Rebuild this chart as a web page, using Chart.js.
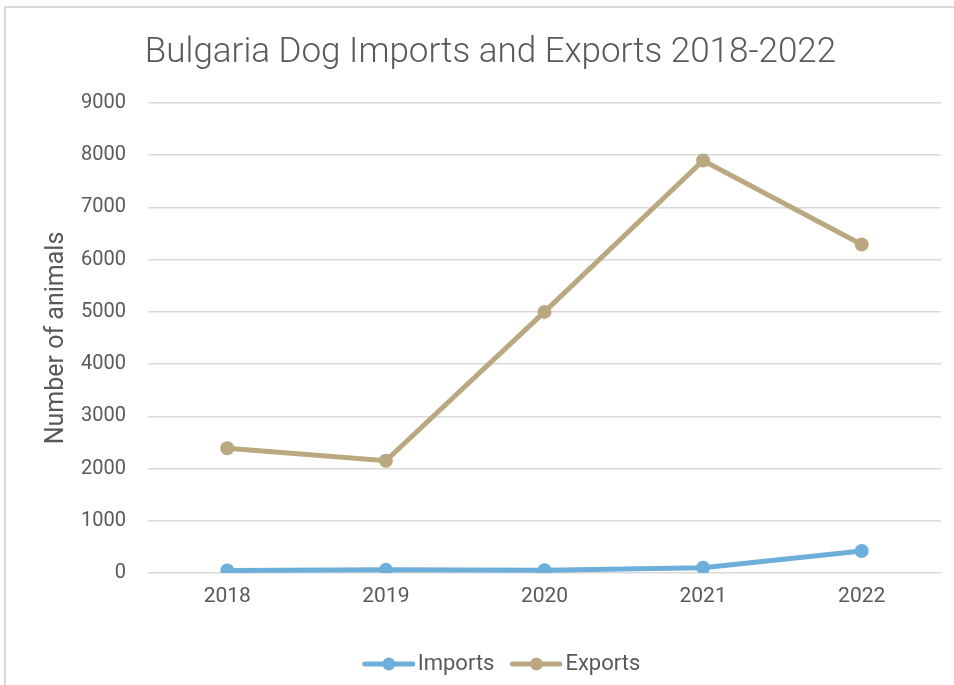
<!DOCTYPE html>
<html>
<head>
<meta charset="utf-8">
<script src="https://cdn.jsdelivr.net/npm/chart.js@4"></script>
<style>
  html, body { margin: 0; padding: 0; background: #fff; overflow: hidden; }
  #wrap { position: relative; width: 954px; height: 685px; }
  #frame { position: absolute; left: 4px; top: 6px; width: 1000px; height: 1000px; border-left: 2px solid #d9d9d9; border-top: 2px solid #d9d9d9; box-sizing: border-box; }
  #c { position: absolute; left: 0; top: 0; }
</style>
</head>
<body>
<div id="wrap">
  <div id="frame"></div>
  <canvas id="c" width="954" height="685"></canvas>
</div>
<script>
const years = ['2018', '2019', '2020', '2021', '2022'];
const imports = [50, 60, 55, 100, 420];
const exports = [2390, 2150, 5000, 7900, 6290];
const yTicks = [0, 1000, 2000, 3000, 4000, 5000, 6000, 7000, 8000, 9000];

const FONT = 'Roboto, "DejaVu Sans", sans-serif';
const TXT = '#595959';
const BLUE = '#6daedb';
const TAN = '#b9a880';

function legendIcon(color) {
  const cv = document.createElement('canvas');
  cv.width = 68; cv.height = 16;
  const g = cv.getContext('2d');
  g.strokeStyle = color; g.lineWidth = 5; g.lineCap = 'round';
  g.beginPath(); g.moveTo(18, 8); g.lineTo(66, 8); g.stroke();
  g.fillStyle = color; g.beginPath(); g.arc(42, 8, 6.5, 0, Math.PI * 2); g.fill();
  return cv;
}

const shiftLegend = {
  id: 'shiftLegend',
  afterLayout(chart) {
    if (chart.legend) { chart.legend.left += 7; chart.legend.right += 7; }
  }
};

new Chart(document.getElementById('c'), {
  type: 'line',
  data: {
    labels: years,
    datasets: [
      { label: 'Imports', data: imports, borderColor: BLUE, backgroundColor: BLUE, borderWidth: 5, pointRadius: 7, pointHoverRadius: 7, pointStyle: 'circle', tension: 0, pointBorderWidth: 0 },
      { label: 'Exports', data: exports, borderColor: TAN, backgroundColor: TAN, borderWidth: 5, pointRadius: 7, pointHoverRadius: 7, pointStyle: 'circle', tension: 0, pointBorderWidth: 0 }
    ]
  },
  plugins: [shiftLegend],
  options: {
    responsive: false,
    animation: false,
    layout: { padding: { left: 40, right: 13, top: 0, bottom: 0 } },
    plugins: {
      title: {
        display: true,
        text: 'Bulgaria Dog Imports and Exports 2018-2022',
        color: TXT,
        font: { family: FONT, size: 35, weight: 300 },
        padding: { top: 32, bottom: 29 }
      },
      legend: {
        position: 'bottom',
        labels: {
          color: TXT,
          font: { family: FONT, size: 22 },
          usePointStyle: true,
          pointStyleWidth: 52,
          padding: 8,
          generateLabels: (chart) => chart.data.datasets.map((ds, i) => ({
            text: ds.label,
            pointStyle: legendIcon(ds.borderColor),
            fontColor: TXT,
            datasetIndex: i,
            lineWidth: 0,
            hidden: false
          }))
        }
      },
      tooltip: { enabled: false }
    },
    scales: {
      x: {
        offset: true,
        grid: { display: false, drawTicks: false },
        border: { display: false },
        ticks: { color: TXT, font: { family: FONT, size: 21 }, padding: 11 },
        afterFit: (s) => { s.height = 72; }
      },
      y: {
        min: 0, max: 9000,
        afterBuildTicks: (s) => { s.ticks = yTicks.map(v => ({ value: v })); },
        grid: { color: '#d9d9d9', lineWidth: 1.5, drawTicks: false },
        border: { display: false },
        ticks: { color: TXT, font: { family: FONT, size: 20 }, padding: 22, callback: (v) => String(v) },
        title: { display: true, text: 'Number of animals', color: TXT, font: { family: FONT, size: 25 }, padding: { top: 2, bottom: 0 } },
        afterFit: (s) => { s.width = 108; }
      }
    }
  }
});
</script>
</body>
</html>
